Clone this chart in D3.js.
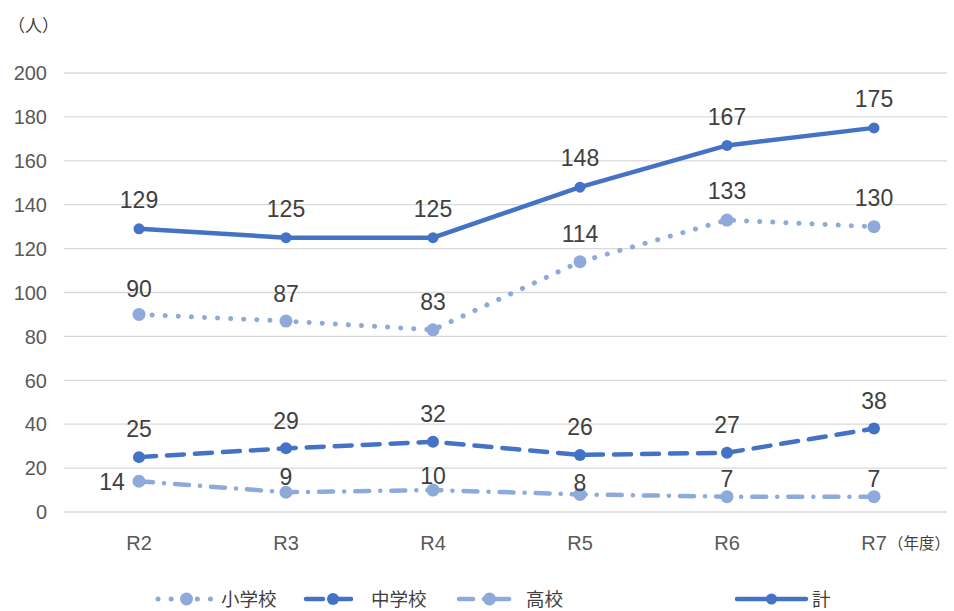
<!DOCTYPE html>
<html><head><meta charset="utf-8">
<script src="https://cdn.jsdelivr.net/npm/d3@7"></script>
<style>body{margin:0;background:#fff}svg{display:block}</style>
</head><body><svg id="c" width="954" height="611"></svg>
<script>
const categories = ["R2","R3","R4","R5","R6","R7"];
const shogakko = [90,87,83,114,133,130];
const chugakko = [25,29,32,26,27,38];
const koko = [14,9,10,8,7,7];
const kei = [129,125,125,148,167,175];
const yTicks = [0,20,40,60,80,100,120,140,160,180,200];

const svg = d3.select("#c");
const numFont = "'Liberation Sans', Arial, sans-serif";
const jpFont = "'Noto Sans CJK JP', sans-serif";
const x = d3.scalePoint().domain(categories).range([139, 874]);
const y = d3.scaleLinear().domain([0,200]).range([512, 73]);

// gridlines
svg.append("g").selectAll("line").data(yTicks).join("line")
  .attr("x1",64).attr("x2",947).attr("y1",d=>y(d)).attr("y2",d=>y(d))
  .attr("stroke","#d9d9d9").attr("stroke-width",1.3);
// y tick labels
svg.append("g").selectAll("text").data(yTicks).join("text")
  .attr("x",47).attr("y",d=>y(d)).attr("dy","0.36em").attr("text-anchor","end")
  .attr("font-family",numFont).attr("font-size",20).attr("fill","#595959").text(d=>d);
// x labels
svg.append("g").selectAll("text").data(categories).join("text")
  .attr("x",d=>x(d)).attr("y",543).attr("dy","0.36em").attr("text-anchor","middle")
  .attr("font-family",numFont).attr("font-size",20).attr("fill","#595959").text(d=>d);
svg.append("text").attr("x",8).attr("y",32).attr("font-family",jpFont).attr("font-size",17).attr("fill","#404040").text("（人）");
svg.append("text").attr("x",888).attr("y",549).attr("font-family",jpFont).attr("font-size",15.5).attr("fill","#404040").text("（年度）");

const series = [
  {name:"小学校", values:shogakko, color:"#8eaadb", width:5, dash:"0.1 13", r:6.5, lab:[-26,-27,-28,-28,-29,-29]},
  {name:"中学校", values:chugakko, color:"#4472c4", width:4.5, dash:"17 11", r:6, lab:[-28,-28,-28,-28,-28,-28]},
  {name:"高校", values:koko, color:"#8eaadb", width:4.5, dash:"14 11 0.1 11", r:6.5, lab:[0,-16,-14,-12,-18,-18]},
  {name:"計", values:kei, color:"#4472c4", width:4.5, dash:null, r:5.5, lab:[-29,-29,-29,-29,-29,-29]}
];
const line = d3.line().x((d,i)=>x(categories[i])).y(d=>y(d));
series.forEach(s=>{
  const g = svg.append("g");
  g.append("path").attr("d",line(s.values)).attr("fill","none").attr("stroke",s.color)
    .attr("stroke-width",s.width).attr("stroke-dasharray",s.dash).attr("stroke-linecap","round");
  g.selectAll("circle").data(s.values).join("circle")
    .attr("cx",(d,i)=>x(categories[i])).attr("cy",d=>y(d)).attr("r",s.r).attr("fill",s.color);
  g.selectAll("text").data(s.values).join("text")
    .attr("x",(d,i)=> (s.name==="高校" && i===0) ? x(categories[i])-27 : x(categories[i]))
    .attr("y",(d,i)=> y(d)+s.lab[i])
    .attr("dy","0.36em").attr("text-anchor","middle")
    .attr("font-family",numFont).attr("font-size",23).attr("fill","#404040").text(d=>d);
});

// legend
const legend = [
  {s:series[0], x1:158, x2:215, tx:221},
  {s:series[1], x1:306, x2:360, tx:371},
  {s:series[2], x1:459, x2:520, tx:526},
  {s:series[3], x1:737, x2:806, tx:812}
];
const ly = 599;
legend.forEach(l=>{
  svg.append("line").attr("x1",l.x1).attr("x2",l.x2).attr("y1",ly).attr("y2",ly)
    .attr("stroke",l.s.color).attr("stroke-width",l.s.width).attr("stroke-dasharray",l.s.dash)
    .attr("stroke-linecap","round");
  svg.append("circle").attr("cx",(l.x1+l.x2)/2).attr("cy",ly).attr("r",l.s.r).attr("fill",l.s.color);
  svg.append("text").attr("x",l.tx).attr("y",ly).attr("dy","0.36em")
    .attr("font-family",jpFont).attr("font-size",18.5).attr("fill","#404040").text(l.s.name);
});
</script></body></html>
